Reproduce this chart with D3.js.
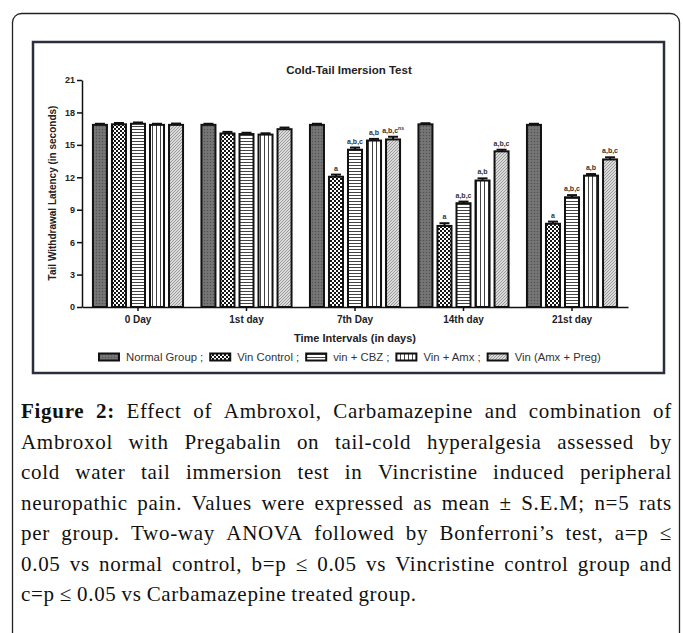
<!DOCTYPE html>
<meta charset="utf-8">
<style>
  body { margin: 0; background: #fff; }
  svg { display: block; }
</style>
<body>
<script src="https://cdn.jsdelivr.net/npm/d3@7"></script>
<script>

    var width = 683,
        height = 633;

    // data
    var categories = ["0 Day", "1st day", "7th Day", "14th day", "21st day"];
    var groups = ["Normal Group", "Vin Control", "vin + CBZ", "Vin + Amx", "Vin (Amx + Preg)"];
    var normalGroup = [16.85, 16.85, 16.85, 16.9, 16.85];
    var vinControl  = [16.9, 16.05, 12.05, 7.5, 7.7];
    var vinCBZ      = [16.95, 16.0, 14.55, 9.6, 10.15];
    var vinAmx      = [16.85, 15.95, 15.4, 11.7, 12.15];
    var vinAmxPreg  = [16.85, 16.45, 15.5, 14.4, 13.65];
    var semNormal  = [0.1, 0.1, 0.1, 0.1, 0.1];
    var semControl = [0.12, 0.15, 0.2, 0.25, 0.2];
    var semCBZ     = [0.12, 0.12, 0.2, 0.15, 0.2];
    var semAmx     = [0.1, 0.12, 0.15, 0.2, 0.15];
    var semPreg    = [0.12, 0.15, 0.25, 0.15, 0.2];
    var annoControl = ["", "", "a", "a", "a"];
    var annoCBZ     = ["", "", "a,b,c", "a,b,c", "a,b,c"];
    var annoAmx     = ["", "", "a,b", "a,b", "a,b"];
    var annoPreg    = ["", "", "a,b,c^ns", "a,b,c", "a,b,c"];
    var yTicks = [0, 3, 6, 9, 12, 15, 18, 21];

    var captionLines = [
        "**Figure 2:** Effect of Ambroxol, Carbamazepine and combination of",
        "Ambroxol with Pregabalin on tail-cold hyperalgesia assessed by",
        "cold water tail immersion test in Vincristine induced peripheral",
        "neuropathic pain. Values were expressed as mean ± S.E.M; n=5 rats",
        "per group. Two-way ANOVA followed by Bonferroni’s test, a=p ≤",
        "0.05 vs normal control, b=p ≤ 0.05 vs Vincristine control group and",
        "c=p ≤ 0.05 vs Carbamazepine treated group."
    ];

    var series = [
        {name: groups[0], values: normalGroup, sem: semNormal, anno: null, fill: "url(#pNormal)"},
        {name: groups[1], values: vinControl, sem: semControl, anno: annoControl, fill: "url(#pCheck)"},
        {name: groups[2], values: vinCBZ, sem: semCBZ, anno: annoCBZ, fill: "url(#pHoriz)"},
        {name: groups[3], values: vinAmx, sem: semAmx, anno: annoAmx, fill: "url(#pVert)"},
        {name: groups[4], values: vinAmxPreg, sem: semPreg, anno: annoPreg, fill: "url(#pDiag)"}
    ];

    var sans = "Liberation Sans, Arial, sans-serif";

    var svg = d3.select("body").append("svg")
            .attr("width", width)
            .attr("height", height);

    // patterns
    var defs = svg.append("defs");
    var p = defs.append("pattern").attr("id", "pNormal").attr("patternUnits", "userSpaceOnUse")
            .attr("width", 3).attr("height", 3);
    p.append("rect").attr("width", 3).attr("height", 3).attr("fill", "#707070");
    p.append("rect").attr("width", 1).attr("height", 1).attr("fill", "#525252");
    p.append("rect").attr("x", 1.5).attr("y", 1.5).attr("width", 1).attr("height", 1).attr("fill", "#888");

    p = defs.append("pattern").attr("id", "pCheck").attr("patternUnits", "userSpaceOnUse")
            .attr("width", 4).attr("height", 4);
    p.append("rect").attr("width", 4).attr("height", 4).attr("fill", "#151515");
    p.append("rect").attr("width", 2).attr("height", 2).attr("fill", "#fff");
    p.append("rect").attr("x", 2).attr("y", 2).attr("width", 2).attr("height", 2).attr("fill", "#fff");

    p = defs.append("pattern").attr("id", "pHoriz").attr("patternUnits", "userSpaceOnUse")
            .attr("width", 3).attr("height", 3);
    p.append("rect").attr("width", 3).attr("height", 3).attr("fill", "#fff");
    p.append("rect").attr("width", 3).attr("height", 1).attr("fill", "#444");

    p = defs.append("pattern").attr("id", "pVert").attr("patternUnits", "userSpaceOnUse")
            .attr("width", 4).attr("height", 4);
    p.append("rect").attr("width", 4).attr("height", 4).attr("fill", "#fff");
    p.append("rect").attr("width", 1).attr("height", 4).attr("fill", "#444");

    p = defs.append("pattern").attr("id", "pDiag").attr("patternUnits", "userSpaceOnUse")
            .attr("width", 3).attr("height", 3);
    p.append("rect").attr("width", 3).attr("height", 3).attr("fill", "#dadada");
    p.append("path").attr("d", "M0,3L3,0M-1,1L1,-1M2,4L4,2").attr("stroke", "#8c8c8c").attr("stroke-width", 0.8);

    // outer caption box, open at the bottom
    svg.append("rect")
        .attr("x", 12.5).attr("y", 13.5).attr("width", 667).attr("height", 700).attr("rx", 9)
        .attr("fill", "none").attr("stroke", "#222").attr("stroke-width", 1.3);

    // chart frame
    svg.append("rect")
        .attr("x", 33).attr("y", 42).attr("width", 631).attr("height", 331)
        .attr("fill", "#fff").attr("stroke", "#2b2f3b").attr("stroke-width", 2.5);

    var x0 = d3.scaleBand().domain(categories).range([82, 628])
            .paddingInner(0.124).paddingOuter(0.078);
    var x1 = d3.scaleBand().domain(groups).range([0, x0.bandwidth()])
            .paddingInner(0.263).paddingOuter(0.13);
    var y = d3.scaleLinear().domain([0, 21]).range([307, 80]);

    svg.append("text")
        .attr("x", 349).attr("y", 74).attr("text-anchor", "middle")
        .attr("font-family", sans).attr("font-weight", "bold")
        .attr("font-size", 11.5).attr("fill", "#222")
        .text("Cold-Tail Imersion Test");

    // bars
    series.forEach(function(s) {
        var g = svg.append("g");
        categories.forEach(function(c, i) {
            var bx = x0(c) + x1(s.name), bw = x1.bandwidth(), cx = bx + bw / 2;
            var v = s.values[i], top = y(v + s.sem[i]);
            g.append("line").attr("x1", cx).attr("x2", cx).attr("y1", y(v)).attr("y2", top)
                .attr("stroke", "#111").attr("stroke-width", 2);
            g.append("line").attr("x1", cx - 5).attr("x2", cx + 5).attr("y1", top).attr("y2", top)
                .attr("stroke", "#111").attr("stroke-width", 2);
            g.append("rect")
                .attr("x", bx).attr("y", y(v)).attr("width", bw).attr("height", y(0) - y(v))
                .attr("fill", s.fill).attr("stroke", "#111").attr("stroke-width", 2);
            if (s.anno && s.anno[i]) {
                var parts = s.anno[i].split("^");
                var t = g.append("text").attr("x", cx).attr("y", top - 4)
                    .attr("text-anchor", "middle")
                    .attr("font-family", sans).attr("font-weight", "bold")
                    .attr("font-size", 7).attr("fill", "#333");
                t.append("tspan").text(parts[0]);
                if (parts[1]) t.append("tspan").attr("dy", -2.5).attr("font-size", 5).text(parts[1]);
            }
        });
    });

    // axes
    var yAxis = svg.append("g").attr("transform", "translate(82,0)")
        .call(d3.axisLeft(y).tickValues(yTicks).tickSize(5).tickSizeOuter(0).tickPadding(2));
    var xAxis = svg.append("g").attr("transform", "translate(0,307)")
        .call(d3.axisBottom(x0).tickSize(4).tickSizeOuter(0).tickPadding(5));
    [yAxis, xAxis].forEach(function(a) {
        a.selectAll("path, line").attr("stroke", "#111").attr("stroke-width", 1.5);
        a.selectAll("text").attr("font-family", sans)
            .attr("font-weight", "bold").attr("fill", "#222");
    });
    yAxis.selectAll("text").attr("font-size", 9);
    xAxis.selectAll("text").attr("font-size", 10);

    svg.append("text")
        .attr("transform", "translate(56,193) rotate(-90)").attr("text-anchor", "middle")
        .attr("font-family", sans).attr("font-weight", "bold")
        .attr("font-size", 10).attr("fill", "#222")
        .text("Tail Withdrawal Latency (in seconds)");

    svg.append("text")
        .attr("x", 355).attr("y", 342).attr("text-anchor", "middle")
        .attr("font-family", sans).attr("font-weight", "bold")
        .attr("font-size", 11).attr("fill", "#222")
        .text("Time Intervals (in days)");

    // legend
    var lx = 99;
    series.forEach(function(s, i) {
        svg.append("rect").attr("x", lx).attr("y", 353.5).attr("width", 20).attr("height", 7)
            .attr("fill", s.fill).attr("stroke", "#111").attr("stroke-width", 2);
        var t = svg.append("text").attr("x", lx + 27).attr("y", 361)
            .attr("font-family", sans)
            .attr("font-size", 11.3).attr("fill", "#333")
            .text(s.name + (i < series.length - 1 ? " ;" : ""));
        lx += 27 + t.node().getComputedTextLength() + 7;
    });

    // caption, justified line by line
    var capLeft = 21, capWidth = 651, capTop = 418, capStep = 30.5;
    captionLines.forEach(function(line, li) {
        var words = [];
        var bold = line.match(/^\*\*(.*?)\*\*\s*(.*)$/);
        if (bold) {
            bold[1].split(" ").forEach(function(w) { words.push({t: w, b: true}); });
            line = bold[2];
        }
        line.split(" ").forEach(function(w) { words.push({t: w, b: false}); });
        var ty = capTop + li * capStep;
        var nodes = words.map(function(w) {
            return svg.append("text").attr("y", ty)
                .attr("font-family", "Liberation Serif, Times New Roman, serif")
                .attr("font-size", 21).attr("letter-spacing", 0.7)
                .attr("font-weight", w.b ? "bold" : "normal")
                .attr("fill", "#111").text(w.t);
        });
        var widths = nodes.map(function(n) { return n.node().getComputedTextLength(); });
        var total = d3.sum(widths);
        var gap = li < captionLines.length - 1 ? (capWidth - total) / (words.length - 1) : 5;
        var cx = capLeft;
        nodes.forEach(function(n, k) {
            n.attr("x", cx);
            cx += widths[k] + gap;
        });
    });

</script>
